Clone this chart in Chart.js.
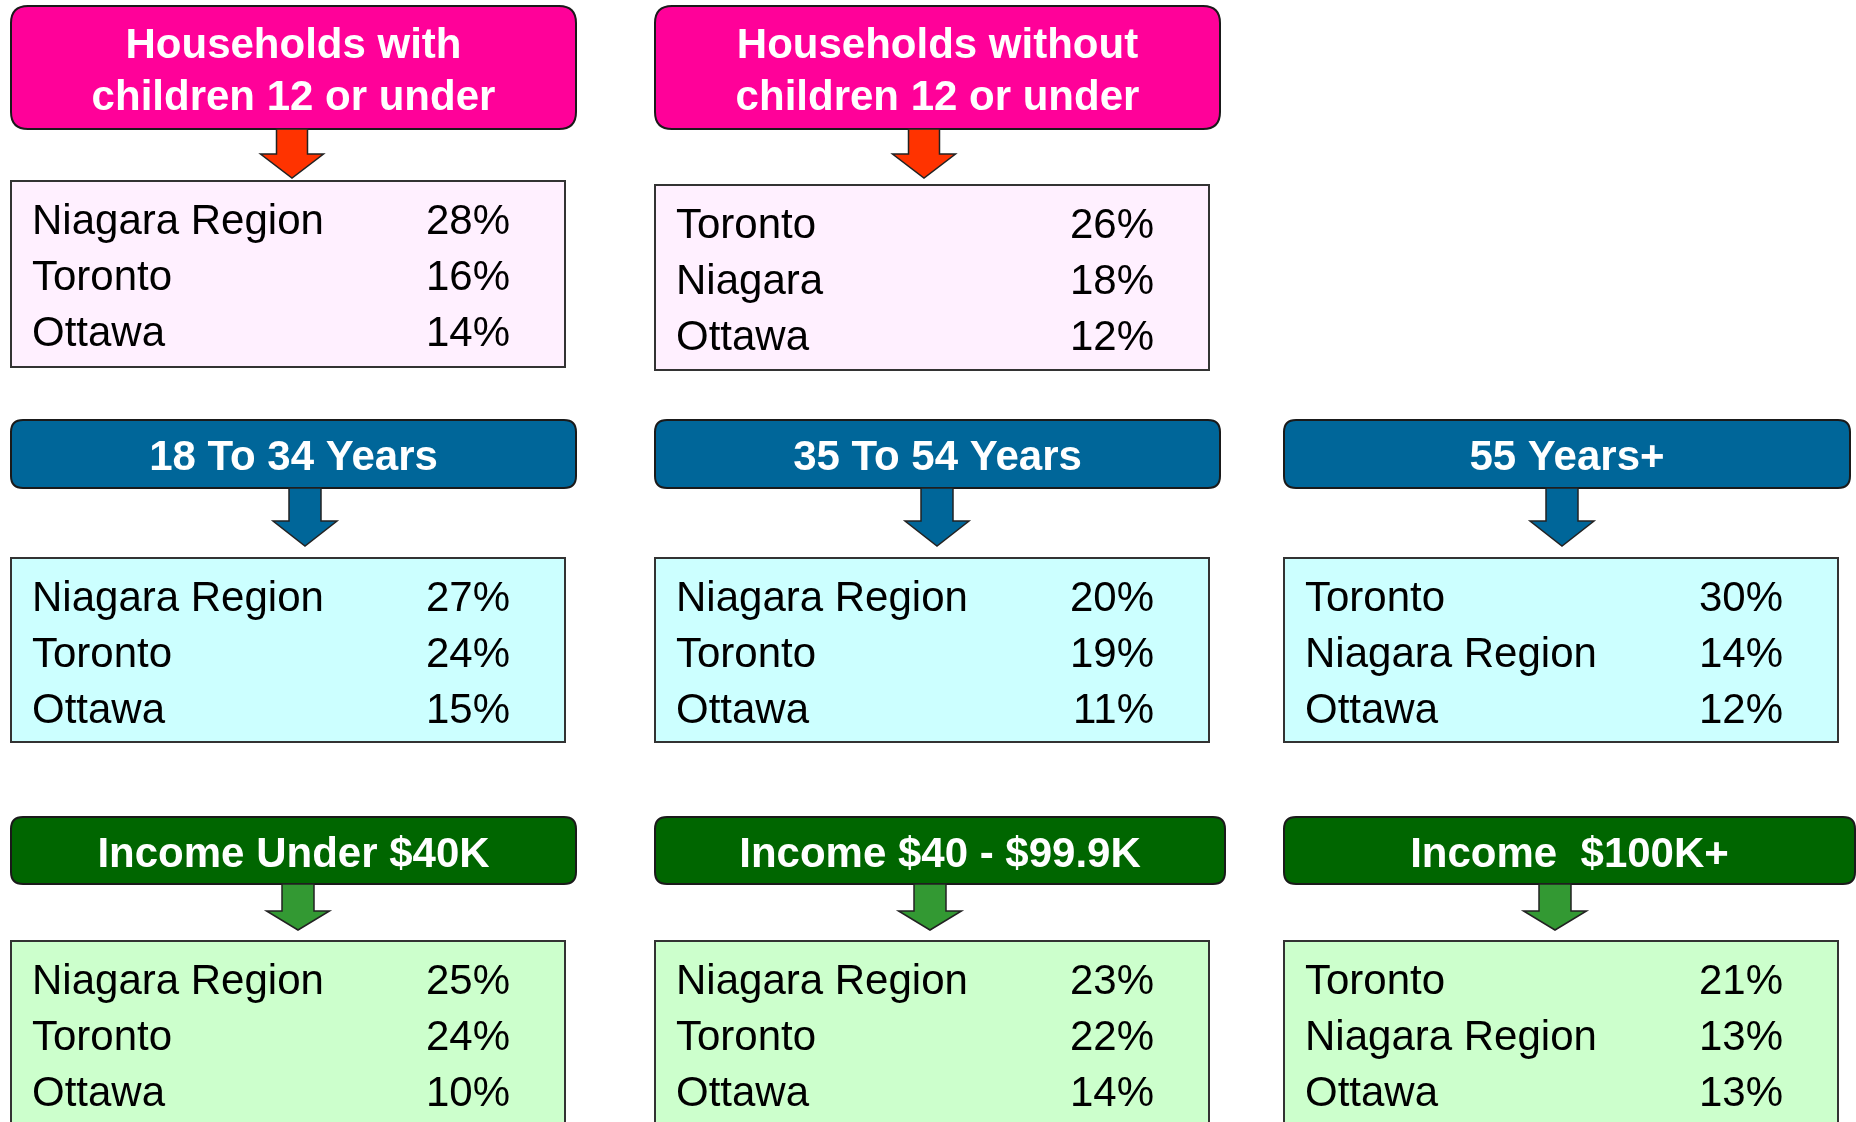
<!DOCTYPE html>
<html>
<head>
<meta charset="utf-8">
<script src="https://cdn.jsdelivr.net/npm/chart.js@4"></script>
<style>
	html, body { margin: 0; padding: 0; background: #FFFFFF; }
	#wrap { width: 1856px; height: 1122px; }
</style>
</head>
<body>
<div id="wrap"><canvas id="chart"></canvas></div>
<script>
// Segment titles, as they read in each header
const groups = [
	"Households with\nchildren 12 or under",
	"Households without\nchildren 12 or under",
	"18 To 34 Years",
	"35 To 54 Years",
	"55 Years+",
	"Income Under $40K",
	"Income $40 - $99.9K",
	"Income  $100K+"
]
// Top three places for each segment
const places = [
	["Niagara Region", "Toronto", "Ottawa"],
	["Toronto", "Niagara", "Ottawa"],
	["Niagara Region", "Toronto", "Ottawa"],
	["Niagara Region", "Toronto", "Ottawa"],
	["Toronto", "Niagara Region", "Ottawa"],
	["Niagara Region", "Toronto", "Ottawa"],
	["Niagara Region", "Toronto", "Ottawa"],
	["Toronto", "Niagara Region", "Ottawa"]
]
const shares = [
	[28, 16, 14],
	[26, 18, 12],
	[27, 24, 15],
	[20, 19, 11],
	[30, 14, 12],
	[25, 24, 10],
	[23, 22, 14],
	[21, 13, 13]
]

// layout of each panel, in page units (x0, y0, x1, y1)
const layout = [
	{ head: [11, 6, 576, 129], radius: 17, arrow: [292, 129, 154, 178, 31, 63], box: [11, 181, 565, 367], theme: 0 },
	{ head: [655, 6, 1220, 129], radius: 17, arrow: [924, 129, 154, 178, 31, 63], box: [655, 185, 1209, 370], theme: 0 },
	{ head: [11, 420, 576, 488], radius: 12, arrow: [305, 488, 521, 546, 32, 64], box: [11, 558, 565, 742], theme: 1 },
	{ head: [655, 420, 1220, 488], radius: 12, arrow: [937, 488, 521, 546, 32, 64], box: [655, 558, 1209, 742], theme: 1 },
	{ head: [1284, 420, 1850, 488], radius: 12, arrow: [1562, 488, 521, 546, 32, 64], box: [1284, 558, 1838, 742], theme: 1 },
	{ head: [11, 817, 576, 884], radius: 12, arrow: [298, 884, 911, 930, 32, 63], box: [11, 941, 565, 1130], theme: 2 },
	{ head: [655, 817, 1225, 884], radius: 12, arrow: [930, 884, 911, 930, 32, 63], box: [655, 941, 1209, 1130], theme: 2 },
	{ head: [1284, 817, 1855, 884], radius: 12, arrow: [1555, 884, 911, 930, 32, 63], box: [1284, 941, 1838, 1130], theme: 2 }
]

const themes = [
	{ head: "#FF0199", arrow: "#FF3300", box: "#FFF0FF" },
	{ head: "#006699", arrow: "#006699", box: "#CCFFFF" },
	{ head: "#006600", arrow: "#339933", box: "#CCFFCC" }
]

const FONT = "'Liberation Sans', Arial, sans-serif"

function roundRect(ctx, x0, y0, x1, y1, r) {
	ctx.beginPath()
	ctx.moveTo(x0 + r, y0)
	ctx.lineTo(x1 - r, y0)
	ctx.quadraticCurveTo(x1, y0, x1, y0 + r)
	ctx.lineTo(x1, y1 - r)
	ctx.quadraticCurveTo(x1, y1, x1 - r, y1)
	ctx.lineTo(x0 + r, y1)
	ctx.quadraticCurveTo(x0, y1, x0, y1 - r)
	ctx.lineTo(x0, y0 + r)
	ctx.quadraticCurveTo(x0, y0, x0 + r, y0)
	ctx.closePath()
}

const panelPlugin = {
	id: "panels",
	afterDatasetsDraw(chart) {
		const ctx = chart.ctx
		const xs = chart.scales.x
		const ys = chart.scales.y
		const px = (v) => xs.getPixelForValue(v)
		const py = (v) => ys.getPixelForValue(v)

		ctx.save()
		for(let i = 0; i < groups.length; i++) {
			let l = layout[i]
			let t = themes[l.theme]

			// header
			let [hx0, hy0, hx1, hy1] = l.head
			roundRect(ctx, px(hx0), py(hy0), px(hx1), py(hy1), l.radius)
			ctx.fillStyle = t.head
			ctx.fill()
			ctx.lineWidth = 2
			ctx.strokeStyle = "#1A1A1A"
			ctx.stroke()

			ctx.fillStyle = "#FFFFFF"
			ctx.font = `bold 42px ${FONT}`
			ctx.textAlign = "center"
			ctx.textBaseline = "alphabetic"
			let lines = groups[i].split("\n")
			let cx = (px(hx0) + px(hx1)) / 2
			let cy = (py(hy0) + py(hy1)) / 2
			let lineH = 52
			let first = cy + 16 - (lines.length - 1) * lineH / 2
			lines.forEach((s, k) => ctx.fillText(s, cx, first + k * lineH))

			// arrow
			let [ax, ay0, ay1, atip, sw, hw] = l.arrow
			ctx.beginPath()
			ctx.moveTo(px(ax - sw / 2), py(ay0))
			ctx.lineTo(px(ax + sw / 2), py(ay0))
			ctx.lineTo(px(ax + sw / 2), py(ay1))
			ctx.lineTo(px(ax + hw / 2), py(ay1))
			ctx.lineTo(px(ax), py(atip))
			ctx.lineTo(px(ax - hw / 2), py(ay1))
			ctx.lineTo(px(ax - sw / 2), py(ay1))
			ctx.closePath()
			ctx.fillStyle = t.arrow
			ctx.fill()
			ctx.lineWidth = 1.5
			ctx.strokeStyle = "#222222"
			ctx.stroke()

			// data box
			let [bx0, by0, bx1, by1] = l.box
			ctx.fillStyle = t.box
			ctx.fillRect(px(bx0), py(by0), px(bx1) - px(bx0), py(by1) - py(by0))
			ctx.lineWidth = 2
			ctx.strokeStyle = "#333333"
			ctx.strokeRect(px(bx0), py(by0), px(bx1) - px(bx0), py(by1) - py(by0))

			ctx.fillStyle = "#000000"
			ctx.font = `42px ${FONT}`
			for(let k = 0; k < places[i].length; k++) {
				let base = py(by0 + 53 + k * 56)
				ctx.textAlign = "left"
				ctx.fillText(places[i][k], px(bx0 + 21), base)
				ctx.textAlign = "right"
				ctx.fillText(shares[i][k] + "%", px(bx0 + 499), base)
			}
		}
		ctx.restore()
	}
}

Chart.defaults.font.family = FONT

new Chart(document.getElementById("chart"), {
	type: "scatter",
	data: { datasets: [{ data: [], pointRadius: 0 }] },
	options: {
		responsive: true,
		maintainAspectRatio: false,
		animation: false,
		events: [],
		layout: { padding: 0 },
		plugins: { legend: { display: false }, tooltip: { enabled: false } },
		scales: {
			x: { type: "linear", min: 0, max: 1856, display: false },
			y: { type: "linear", min: 0, max: 1122, reverse: true, display: false }
		}
	},
	plugins: [panelPlugin]
})
</script>
</body>
</html>
